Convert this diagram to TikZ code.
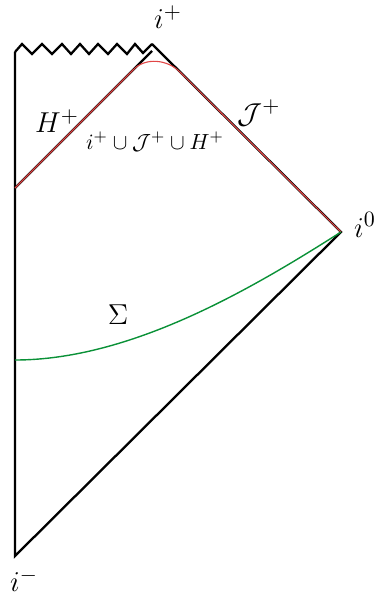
\documentclass[tikz,border=0pt]{standalone}
\usetikzlibrary{calc}
\definecolor{hred}{RGB}{225,70,70}
\definecolor{sgreen}{RGB}{10,145,55}
\begin{document}
\begin{tikzpicture}[x=0.5pt,y=-0.5pt,
  edge/.style={line width=1.15pt,black,line join=miter},
  redline/.style={line width=0.55pt,hred},
  greenline/.style={line width=0.7pt,sgreen},
  lab/.style={inner sep=0pt,font=\fontsize{15.5}{18}\selectfont},
  slab/.style={inner sep=0pt,font=\fontsize{10.8}{13}\selectfont}]
\useasboundingbox (0,0) rectangle (375,599);
% key points
\coordinate (top) at (15,52);
\coordinate (bot) at (15,556);
\coordinate (io) at (341,232);
\coordinate (hb) at (15,188);
\coordinate (ht) at (152,51);
\coordinate (jt) at (152,44);
\coordinate (sb) at (15,360);
% boundary
\draw[edge] (top) -- (bot) -- (io) -- (jt);
\draw[edge] (top) -- (22,44) -- (32,54) -- (42,44) -- (52,54) -- (62,44) -- (71,54) -- (80,44)
  -- (89,54) -- (98,44) -- (108,54) -- (117,44) -- (127,54) -- (135,44) -- (143,53) -- (jt);
\draw[edge] (hb) -- (ht);
% red: i+ u J+ u H+
\draw[redline] (hb) -- (133,70) .. controls (145,57) and (168,59) .. (181,73) -- (io);
% green Sigma
\draw[greenline] (sb) .. controls (130,360) and (250,290) .. (io);
% labels
\node[lab] (lip) at (168,17) {$i^+$};
\node[lab] (lhp) at (57,121) {$H^+$};
\node[slab] (lu) at (155,142) {$i^+\cup\mathcal{J}^+\cup H^+$};
\node[lab] (ljp) at (259,113) {$\mathcal{J}^+$};
\node[lab] (lio) at (365,225) {$i^0$};
\node[lab] (lsig) at (118,315) {$\Sigma$};
\node[lab] (lim) at (24,580) {$i^-$};
\end{tikzpicture}
\end{document}
